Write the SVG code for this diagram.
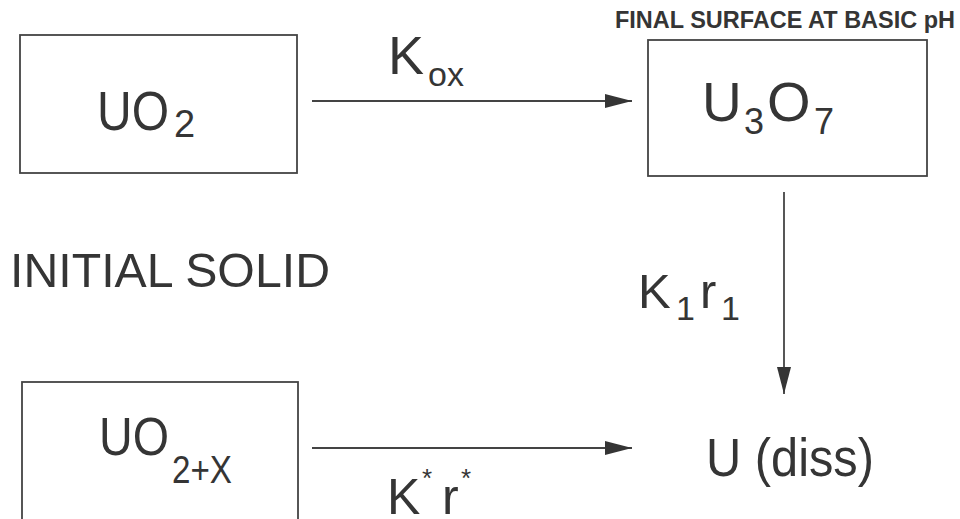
<svg xmlns="http://www.w3.org/2000/svg" width="960" height="519" viewBox="0 0 960 519">
<style>
text{font-family:"Liberation Sans",Arial,Helvetica,sans-serif;fill:#353535}
.box{fill:none;stroke:#444;stroke-width:1.8}
.conn{stroke:#444;stroke-width:1.8;fill:none;marker-end:url(#ah)}
</style>
<defs>
<marker id="ah" markerUnits="userSpaceOnUse" markerWidth="28" markerHeight="14" refX="27" refY="7" orient="auto"><path d="M0,0 L27,7 L0,14 Z" fill="#353535"/></marker>
</defs>
<rect width="960" height="519" fill="#fff"/>
<g id="connectors">
<line class="conn" x1="312" y1="101" x2="632" y2="101"/>
<line class="conn" x1="784" y1="192" x2="784" y2="394"/>
<line class="conn" x1="312" y1="448" x2="632" y2="448"/>
</g>
<g id="labels">
<text id="kox"><tspan x="388" y="74" font-size="54">K</tspan><tspan x="428" y="86" font-size="34">ox</tspan></text>
<text id="k1r1"><tspan x="638" y="308" font-size="49">K</tspan><tspan x="676" y="320" font-size="34">1</tspan><tspan x="700" y="308" font-size="49">r</tspan><tspan x="721" y="320" font-size="34">1</tspan></text>
<text id="kstar"><tspan x="387" y="514" font-size="50">K</tspan><tspan x="422" y="487" font-size="26">*</tspan><tspan x="442" y="514" font-size="50">r</tspan><tspan x="461" y="487" font-size="26">*</tspan></text>
<text id="initial" x="10" y="287" font-size="49" textLength="320" lengthAdjust="spacingAndGlyphs">INITIAL SOLID</text>
<text id="final" x="615" y="28" font-size="23" font-weight="bold" textLength="340" lengthAdjust="spacingAndGlyphs">FINAL SURFACE AT BASIC pH</text>
</g>
<g id="node-uo2">
<rect class="box" x="20" y="35" width="277" height="138"/>
<text><tspan x="97" y="130" font-size="55" textLength="72" lengthAdjust="spacingAndGlyphs">UO</tspan><tspan x="174" y="137" font-size="38">2</tspan></text>
</g>
<g id="node-u3o7">
<rect class="box" x="648" y="40" width="279" height="136"/>
<text><tspan x="702" y="121" font-size="55">U</tspan><tspan x="744" y="134" font-size="36">3</tspan><tspan x="767" y="121" font-size="56">O</tspan><tspan x="814" y="134" font-size="36">7</tspan></text>
</g>
<g id="node-uo2x">
<rect class="box" x="22" y="382" width="276" height="150"/>
<text><tspan x="99" y="455" font-size="54" textLength="70" lengthAdjust="spacingAndGlyphs">UO</tspan><tspan x="172" y="483" font-size="38" textLength="60" lengthAdjust="spacingAndGlyphs">2+X</tspan></text>
</g>
<g id="node-udiss">
<text x="706" y="476" font-size="54" textLength="168" lengthAdjust="spacingAndGlyphs">U (diss)</text>
</g>
</svg>
